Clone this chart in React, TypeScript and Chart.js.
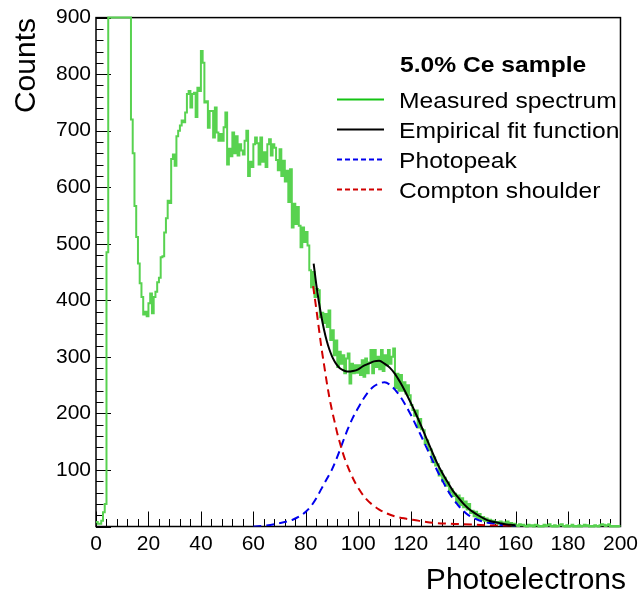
import React, { useEffect, useRef } from "react";
import { Chart, registerables } from "chart.js";

Chart.register(...registerables);

// ---------- axis ranges & labels ----------
const X_MIN = 0;
const X_MAX = 200;
const Y_MIN = 0;
const Y_MAX = 900;
const X_MAJOR = 20;
const X_MINOR = 4;
const Y_MAJOR = 100;
const Y_MINOR = 20;
const X_TITLE = "Photoelectrons";
const Y_TITLE = "Counts";
const LEGEND_TITLE = "5.0% Ce sample";
const SERIES_NAMES = ["Measured spectrum", "Empirical fit function", "Photopeak", "Compton shoulder"];

// ---------- measured spectrum: 300 bins over [0, 200] ----------
const counts = [
  8, 5, 5, 10, 25, 40, 485, 900, 900, 900, 900, 900, 900, 900, 900, 900, 900, 900, 900, 900,
  720, 660, 567, 512, 465, 430, 406, 375, 380, 372, 395, 412, 377, 406, 415, 432, 440, 476, 478, 520,
  545, 576, 572, 650, 658, 638, 690, 700, 709, 718, 715, 732, 765, 770, 741, 765, 767, 724, 776, 770,
  841, 820, 750, 752, 705, 735, 735, 688, 741, 697, 682, 694, 682, 706, 732, 640, 668, 655, 697, 660,
  690, 656, 676, 665, 658, 682, 700, 620, 645, 636, 676, 688, 678, 640, 688, 645, 662, 636, 676, 685,
  656, 676, 670, 648, 630, 667, 620, 647, 610, 629, 574, 632, 529, 571, 535, 565, 532, 494, 529, 503,
  521, 497, 453, 423, 450, 406, 420, 418, 370, 378, 360, 376, 353, 382, 330, 347, 303, 329, 282, 309,
  288, 303, 271, 297, 306, 253, 288, 271, 285, 272, 285, 268, 294, 265, 297, 271, 290, 312, 271, 312,
  282, 300, 278, 312, 275, 303, 285, 312, 288, 300, 315, 245, 270, 240, 268, 240, 255, 235, 250, 232,
  215, 206, 196, 205, 175, 190, 172, 170, 146, 152, 135, 136, 114, 122, 108, 110, 90, 98, 80, 86,
  72, 78, 60, 66, 54, 58, 42, 55, 38, 50, 34, 44, 30, 40, 24, 28, 18, 26, 15, 22,
  12, 17, 10, 14, 8, 12, 7, 10, 6, 8, 5, 9, 4, 7, 3, 9, 4, 6, 2, 5,
  2, 1, 4, 2, 3, 1, 0, 3, 1, 2, 0, 3, 2, 0, 1, 0, 3, 1, 2, 4,
  1, 0, 2, 0, 1, 3, 4, 1, 0, 2, 0, 1, 3, 0, 1, 0, 2, 0, 1, 3,
  1, 2, 0, 1, 0, 2, 1, 0, 2, 4, 3, 1, 2, 4, 0, 1, 0, 1, 0, 1,
];

// ---------- empirical fit function ----------
const fitX = [83, 84, 85, 86, 87, 88, 89, 90, 91, 92, 93, 94, 95, 96, 98, 100, 102, 104, 106, 108, 110, 112, 114, 116, 118, 120, 122, 124, 126, 128, 130, 132, 134, 136, 138, 140, 142, 144, 146, 148, 150, 152, 154, 156, 158, 160];
const fitY = [465, 428, 397, 370, 347, 328, 313, 301, 292, 285, 280, 277, 275, 274, 275, 278, 284, 288, 292, 293, 288, 281, 270, 255, 238, 219, 199, 178, 156, 134, 113, 95, 79, 64, 52, 41, 32, 25, 19, 14, 10, 8, 6, 4, 3, 2];

// ---------- photopeak ----------
const peakX = [60, 65, 70, 75, 78, 80, 82, 84, 86, 88, 90, 92, 94, 96, 98, 100, 102, 104, 106, 108, 110, 112, 114, 116, 118, 120, 122, 124, 126, 128, 130, 132, 134, 136, 138, 140, 142, 144, 146, 148, 150, 153, 156, 160];
const peakY = [0, 2, 6, 12, 19, 26, 36, 50, 67, 84, 101, 123, 148, 172, 193, 210, 226, 239, 248, 253, 255, 251, 242, 230, 215, 198, 179, 160, 140, 120, 100, 82, 65, 50, 38, 28, 20, 15, 11, 8, 6, 4, 2, 1];

// ---------- Compton shoulder ----------
const comptonX = [82.8, 84, 85, 86, 87, 88, 89, 90, 91, 92, 93, 94, 95, 97, 99, 101, 103, 105, 108, 111, 114, 118, 122, 126, 130, 135, 140, 145, 150, 155, 160];
const comptonY = [425, 385, 350, 315, 285, 255, 228, 205, 185, 165, 148, 132, 118, 95, 76, 61, 49, 40, 30, 23, 18, 14, 11, 8, 6, 5, 4, 3, 2, 1.5, 1];

const FONT = "'Liberation Sans', Arial, Helvetica, sans-serif";
const HIST_COLOR = "rgb(88, 210, 80)";
const HIST_LEGEND_COLOR = "rgb(20, 195, 20)";
const FIT_COLOR = "#000000";
const PEAK_COLOR = "#0000ee";
const COMPTON_COLOR = "#d00000";

const decorPlugin = {
  id: "decor",
  beforeDatasetsDraw(chart: any) {
    const { ctx, chartArea: a, scales } = chart;
    const xs = scales.x;
    const ys = scales.y;
    ctx.save();
    ctx.strokeStyle = "#000";
    ctx.lineWidth = 1;
    ctx.beginPath();
    const nx = Math.round((X_MAX - X_MIN) / X_MINOR);
    for (let i = 0; i <= nx; i++) {
      const v = X_MIN + i * X_MINOR;
      const px = Math.round(xs.getPixelForValue(v)) + 0.5;
      const len = i % (X_MAJOR / X_MINOR) === 0 ? 15 : 7.5;
      ctx.moveTo(px, a.bottom);
      ctx.lineTo(px, a.bottom - len);
    }
    const ny = Math.round((Y_MAX - Y_MIN) / Y_MINOR);
    for (let i = 0; i <= ny; i++) {
      const v = Y_MIN + i * Y_MINOR;
      const py = Math.round(ys.getPixelForValue(v)) + 0.5;
      const len = i % (Y_MAJOR / Y_MINOR) === 0 ? 15 : 7.5;
      ctx.moveTo(a.left, py);
      ctx.lineTo(a.left + len, py);
    }
    ctx.stroke();
    ctx.lineWidth = 1.5;
    ctx.strokeRect(a.left, a.top, a.right - a.left, a.bottom - a.top);
    ctx.restore();
  },
  afterDraw(chart: any) {
    const { ctx } = chart;
    ctx.save();
    ctx.fillStyle = "#000";
    // axis titles
    ctx.font = `30px ${FONT}`;
    ctx.textAlign = "right";
    ctx.textBaseline = "alphabetic";
    ctx.fillText(X_TITLE, 626, 589);
    ctx.save();
    ctx.translate(35, 18);
    ctx.rotate(-Math.PI / 2);
    ctx.fillText(Y_TITLE, 0, 0);
    ctx.restore();

    // legend
    const sx = 1.12;
    ctx.textAlign = "left";
    ctx.font = `bold 22px ${FONT}`;
    ctx.save();
    ctx.translate(400, 72);
    ctx.scale(sx, 1);
    ctx.fillText(LEGEND_TITLE, 0, 0);
    ctx.restore();
    const styles = [
      { c: HIST_LEGEND_COLOR, d: [] as number[] },
      { c: FIT_COLOR, d: [] as number[] },
      { c: PEAK_COLOR, d: [5, 3] },
      { c: COMPTON_COLOR, d: [5, 3] },
    ];
    ctx.font = `22px ${FONT}`;
    SERIES_NAMES.forEach((name, i) => {
      const base = 108 + i * 30;
      ctx.save();
      ctx.strokeStyle = styles[i].c;
      ctx.lineWidth = 2;
      ctx.setLineDash(styles[i].d);
      ctx.beginPath();
      ctx.moveTo(337, base - 8.5);
      ctx.lineTo(384, base - 8.5);
      ctx.stroke();
      ctx.restore();
      ctx.save();
      ctx.translate(399, base);
      ctx.scale(sx, 1);
      ctx.fillText(name, 0, 0);
      ctx.restore();
    });
    ctx.restore();
  },
};

export default function App() {
  const ref = useRef<HTMLCanvasElement | null>(null);

  useEffect(() => {
    document.body.style.margin = "0";
    const canvas = ref.current;
    if (!canvas) return;
    const binW = (X_MAX - X_MIN) / counts.length;
    const hist = counts.map((c, i) => ({ x: X_MIN + i * binW, y: c }));
    hist.push({ x: X_MAX, y: counts[counts.length - 1] });
    const toPts = (xs: number[], ys: number[]) => xs.map((x, i) => ({ x, y: ys[i] }));

    const chart = new Chart(canvas, {
      type: "line",
      data: {
        datasets: [
          {
            label: SERIES_NAMES[0],
            data: hist,
            borderColor: HIST_COLOR,
            borderWidth: 2,
            pointRadius: 0,
            stepped: true,
            fill: false,
            clip: 4,
            order: 4,
          } as any,
          {
            label: SERIES_NAMES[2],
            data: toPts(peakX, peakY),
            borderColor: PEAK_COLOR,
            borderWidth: 2,
            borderDash: [8, 5],
            pointRadius: 0,
            cubicInterpolationMode: "monotone",
            fill: false,
            order: 3,
          },
          {
            label: SERIES_NAMES[3],
            data: toPts(comptonX, comptonY),
            borderColor: COMPTON_COLOR,
            borderWidth: 2,
            borderDash: [8, 5],
            pointRadius: 0,
            cubicInterpolationMode: "monotone",
            fill: false,
            order: 2,
          },
          {
            label: SERIES_NAMES[1],
            data: toPts(fitX, fitY),
            borderColor: FIT_COLOR,
            borderWidth: 2,
            pointRadius: 0,
            cubicInterpolationMode: "monotone",
            fill: false,
            order: 1,
          },
        ],
      },
      options: {
        responsive: false,
        animation: false,
        devicePixelRatio: 1,
        layout: { padding: { top: 17, right: 20, left: 0, bottom: 0 } },
        plugins: {
          legend: { display: false },
          tooltip: { enabled: false },
          title: { display: false },
        },
        scales: {
          x: {
            type: "linear",
            min: X_MIN,
            max: X_MAX,
            border: { display: false },
            grid: { display: false, drawTicks: false },
            ticks: {
              stepSize: X_MAJOR,
              autoSkip: false,
              maxRotation: 0,
              padding: 5,
              color: "#000",
              font: { family: FONT, size: 21 },
            },
            afterFit: (s: any) => {
              s.height = 68.5;
            },
          },
          y: {
            type: "linear",
            min: Y_MIN,
            max: Y_MAX,
            border: { display: false },
            grid: { display: false, drawTicks: false },
            ticks: {
              stepSize: Y_MAJOR,
              padding: 5,
              color: "#000",
              font: { family: FONT, size: 21 },
              callback: (v: any) => (Number(v) === 0 ? "" : String(v)),
            },
            afterFit: (s: any) => {
              s.width = 96;
            },
          },
        },
      },
      plugins: [decorPlugin],
    });
    return () => chart.destroy();
  }, []);

  return (
    <div style={{ width: 643, height: 595 }}>
      <canvas ref={ref} width={643} height={595} style={{ display: "block" }} />
    </div>
  );
}
